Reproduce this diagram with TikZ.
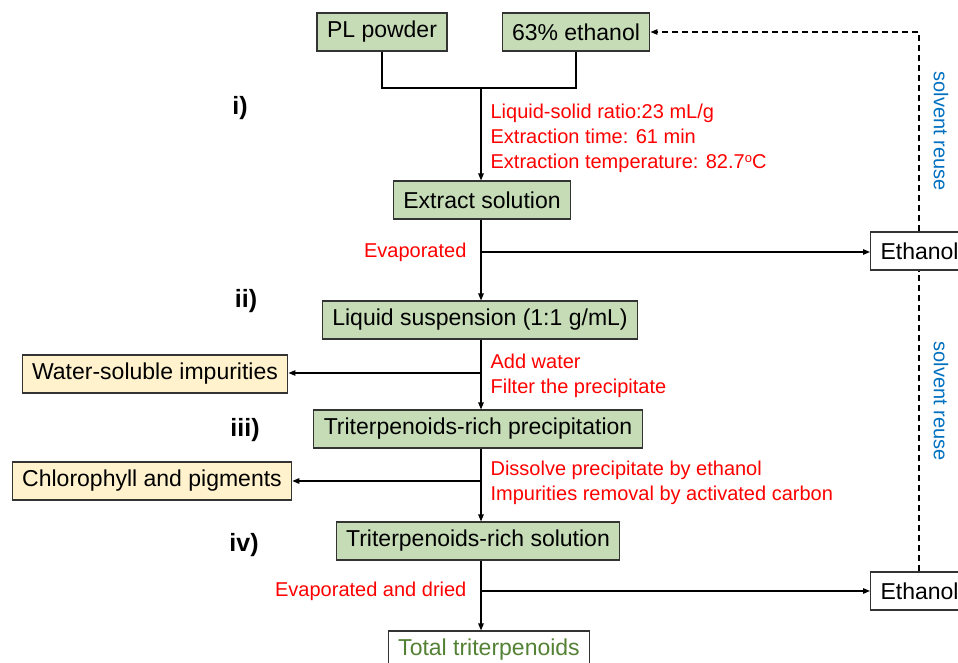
\documentclass[tikz,border=0pt]{standalone}
\usepackage{fontspec}
\setmainfont{Liberation Sans}
\usetikzlibrary{arrows.meta,positioning}
\definecolor{boxgreen}{HTML}{C5DCB6}
\definecolor{boxyellow}{HTML}{FFF2CC}
\definecolor{reuseblue}{HTML}{0070C0}
\definecolor{totalgreen}{HTML}{548235}
\newcommand{\degsup}{\raisebox{6pt}{\fontsize{13}{13}\selectfont o}}

\begin{document}
\begin{tikzpicture}[x=1pt,y=-1pt,>={Triangle[length=7pt,width=5.5pt]},line width=1.2pt,
  stage/.style={draw=black!80,fill=boxgreen,line width=1.1pt,minimum height=38pt,
    inner xsep=10pt,font=\fontsize{23}{27}\selectfont},
  waste/.style={stage,fill=boxyellow},
  plain/.style={stage,fill=white},
  cond/.style={text=red,font=\fontsize{20}{25}\selectfont,align=left,inner sep=0pt},
  numlabel/.style={font=\fontsize{25}{28}\selectfont\bfseries},
  reuse/.style={text=reuseblue,rotate=-90,font=\fontsize{20}{24}\selectfont},
  recycle/.style={dash pattern=on 6pt off 4pt}]
\useasboundingbox (0,0) rectangle (958,663);
\clip (0,0) rectangle (958,663);

% process boxes
\node[stage] (pl) at (382,32) {PL powder};
\node[stage] (eth) at (576,32) {63\% ethanol};
\node[stage] (ext) at (482,200) {Extract solution};
\node[stage] (susp) at (480,320) {Liquid suspension (1:1 g/mL)};
\node[stage] (prec) at (478,429) {Triterpenoids-rich precipitation};
\node[stage] (sol) at (478,541) {Triterpenoids-rich solution};
\node[plain,text=totalgreen] (tot) at (489,650) {Total triterpenoids};
\node[plain,anchor=west] (etA) at (870,251) {Ethanol};
\node[plain,anchor=west] (etB) at (870,591) {Ethanol};
\node[waste] (wat) at (155,374) {Water-soluble impurities};
\node[waste] (chl) at (152,481) {Chlorophyll and pigments};

% step numbers
\node[numlabel] (s1) at (240,108) {i)};
\node[numlabel] (s2) at (246,301) {ii)};
\node[numlabel] (s3) at (245,430) {iii)};
\node[numlabel] (s4) at (244,545) {iv)};

% conditions
\node[cond,anchor=north west] (c1) at (490,103) {Liquid-solid ratio:23 mL/g\\Extraction time: 61 min\\Extraction temperature: 82.7\degsup C};
\node[cond,anchor=east] (ev1) at (467,252) {Evaporated};
\node[cond,anchor=north west] (c2) at (490,353) {Add water\\Filter the precipitate};
\node[cond,anchor=north west] (c3) at (490,460) {Dissolve precipitate by ethanol\\Impurities removal by activated carbon};
\node[cond,anchor=east] (ev2) at (467,591) {Evaporated and dried};
\node[reuse] (r1) at (941,131) {solvent reuse};
\node[reuse] (r2) at (941,401) {solvent reuse};

% spine
\coordinate (mix) at (481,88);
\coordinate (evA) at (481,252);
\coordinate (wsep) at (481,373);
\coordinate (csep) at (481,481);
\coordinate (evB) at (481,591);
\coordinate (back) at (919,32);

\draw (pl.south) |- (mix) -| (eth.south);
\draw[->] (mix) -- (mix |- ext.north);
\draw[->] (mix |- ext.south) -- (mix |- susp.north);
\draw[->] (evA) -- (evA -| etA.west);
\draw[->] (mix |- susp.south) -- (mix |- prec.north);
\draw[->] (wsep) -- (wsep -| wat.east);
\draw[->] (mix |- prec.south) -- (mix |- sol.north);
\draw[->] (csep) -- (csep -| chl.east);
\draw[->] (mix |- sol.south) -- (mix |- tot.north);
\draw[->] (evB) -- (evB -| etB.west);

% solvent recycle
\draw[recycle,->] (etA.north -| back) |- (eth.east);
\draw[recycle] (etB.north -| back) -- (etA.south -| back);
\end{tikzpicture}
\end{document}
